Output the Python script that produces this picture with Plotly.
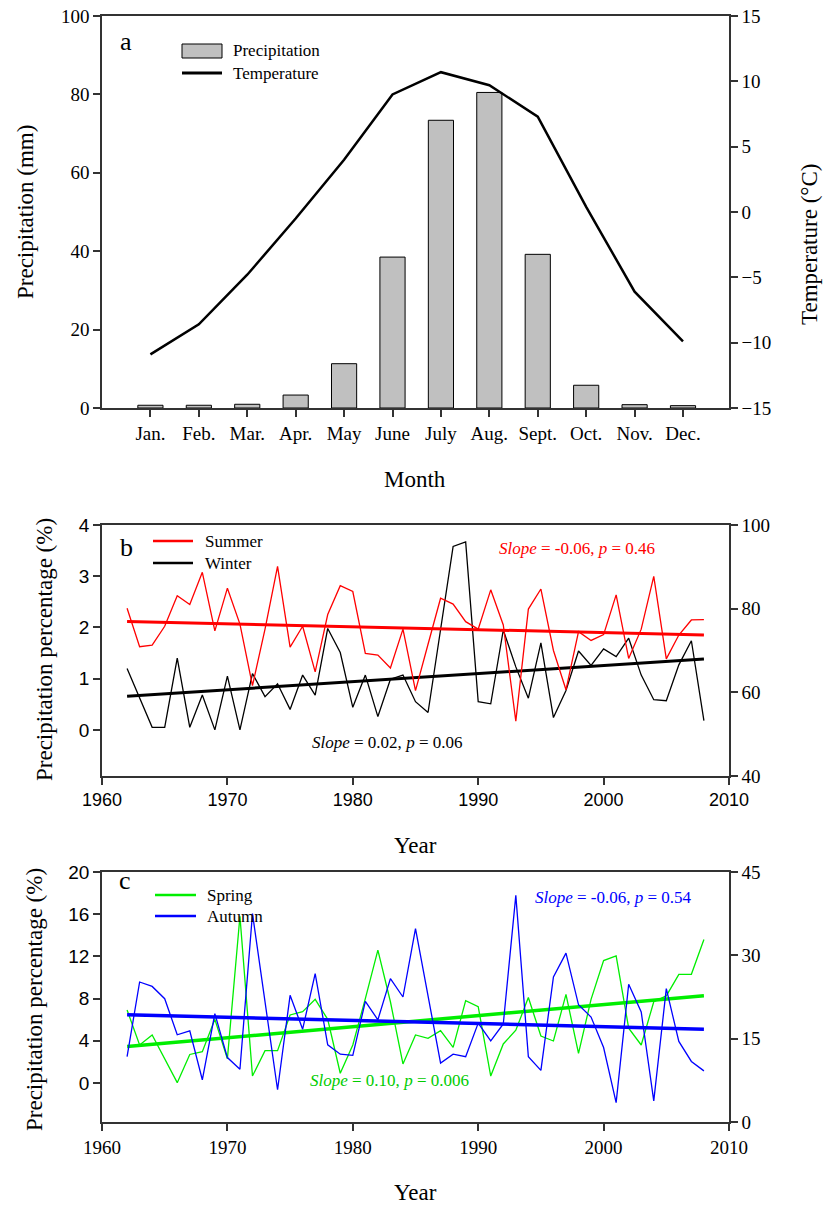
import numpy as np
import plotly.graph_objects as go

W, H = 826, 1205

# ---- panel a: monthly climate ----
months = ["Jan.", "Feb.", "Mar.", "Apr.", "May", "June", "July", "Aug.", "Sept.", "Oct.", "Nov.", "Dec."]
precip_mm = [0.7, 0.7, 0.95, 3.3, 11.3, 38.5, 73.4, 80.5, 39.2, 5.8, 0.85, 0.6]
temp_c = [-10.9, -8.6, -4.8, -0.5, 4.0, 9.0, 10.7, 9.7, 7.3, 0.4, -6.1, -9.9]

# ---- panels b, c: seasonal share of annual precipitation (%) ----
years = list(range(1962, 2009))
summer = [80.1, 70.9, 71.3, 75.8, 83.1, 81.0, 88.7, 74.7, 84.9, 76.3,
          61.6, 75.1, 90.1, 70.8, 75.8, 64.9, 78.6, 85.5, 84.1, 69.3,
          68.9, 65.8, 75.1, 60.4, 71.5, 82.5, 81.1, 76.9, 75.1, 84.5,
          76.1, 53.1, 79.9, 84.7, 70.0, 60.6, 74.5, 72.4, 73.8, 83.3,
          68.1, 75.1, 87.7, 68.0, 73.7, 77.3, 77.4]
winter = [1.20, 0.62, 0.05, 0.05, 1.40, 0.05, 0.68, 0.00, 1.05, 0.00,
          1.10, 0.65, 0.90, 0.40, 1.07, 0.68, 1.98, 1.51, 0.44, 1.07,
          0.26, 0.99, 1.07, 0.55, 0.34, 1.96, 3.58, 3.67, 0.55, 0.51,
          1.95, 1.23, 0.62, 1.70, 0.24, 0.77, 1.54, 1.26, 1.58, 1.43,
          1.79, 1.07, 0.59, 0.57, 1.27, 1.74, 0.18]
spring = [6.92, 3.6, 4.55, 2.24, 0.03, 2.7, 2.97, 6.03, 2.3, 15.8,
          0.66, 3.06, 3.06, 6.45, 6.76, 7.93, 6.03, 0.92, 3.6, 8.0,
          12.6, 7.7, 1.8, 4.55, 4.23, 4.96, 3.38, 7.8, 7.24, 0.66,
          3.7, 5.0, 8.1, 4.45, 3.98, 8.4, 2.8, 7.93, 11.6, 12.04,
          5.2, 3.6, 7.7, 8.25, 10.3, 10.3, 13.6]
autumn = [11.75, 25.2, 24.4, 22.2, 15.7, 16.4, 7.6, 19.5, 11.6, 9.5,
          37.5, 21.5, 5.8, 22.8, 16.7, 26.7, 13.9, 12.2, 12.0, 21.7,
          18.4, 25.8, 22.5, 34.8, 23.0, 10.6, 12.2, 11.75, 17.8, 14.6,
          17.65, 40.8, 11.75, 9.3, 26.1, 30.4, 21.1, 18.9, 13.4, 3.5,
          24.8, 19.8, 3.8, 24.0, 14.5, 10.9, 9.2]

SERIF = "Liberation Serif"
SANS = "Liberation Sans"
AX = "#333333"
RED, BLACK, GREEN, BLUE = "#ff0000", "#000000", "#00ee00", "#0000ff"


def px(x):
    return x / W


def py(y):
    return 1 - y / H


def trend(xs, ys):
    k, b = np.polyfit(xs, ys, 1)
    xe = np.array([xs[0], xs[-1]], dtype=float)
    return xe, k * xe + b


fig = go.Figure()

# panel a
fig.add_trace(go.Bar(x=months, y=precip_mm, width=0.52,
                     marker=dict(color="#c0c0c0", line=dict(color="black", width=1)),
                     xaxis="x", yaxis="y"))
fig.add_trace(go.Scatter(x=months, y=temp_c, mode="lines",
                         line=dict(color="black", width=2.5), xaxis="x", yaxis="y2"))

# panel b (winter on left axis, summer on right axis)
fig.add_trace(go.Scatter(x=years, y=winter, mode="lines", line=dict(color=BLACK, width=1.3),
                         xaxis="x2", yaxis="y3"))
fig.add_trace(go.Scatter(x=years, y=summer, mode="lines", line=dict(color=RED, width=1.3),
                         xaxis="x2", yaxis="y4"))
tx, ty = trend(years, winter)
fig.add_trace(go.Scatter(x=tx, y=ty, mode="lines", line=dict(color=BLACK, width=3),
                         xaxis="x2", yaxis="y3"))
tx, ty = trend(years, summer)
fig.add_trace(go.Scatter(x=tx, y=ty, mode="lines", line=dict(color=RED, width=3),
                         xaxis="x2", yaxis="y4"))

# panel c (spring on left axis, autumn on right axis)
fig.add_trace(go.Scatter(x=years, y=spring, mode="lines", line=dict(color=GREEN, width=1.3),
                         xaxis="x3", yaxis="y5"))
fig.add_trace(go.Scatter(x=years, y=autumn, mode="lines", line=dict(color=BLUE, width=1.3),
                         xaxis="x3", yaxis="y6"))
tx, ty = trend(years, spring)
fig.add_trace(go.Scatter(x=tx, y=ty, mode="lines", line=dict(color=GREEN, width=3.5),
                         xaxis="x3", yaxis="y5"))
tx, ty = trend(years, autumn)
fig.add_trace(go.Scatter(x=tx, y=ty, mode="lines", line=dict(color=BLUE, width=3.5),
                         xaxis="x3", yaxis="y6"))

xdom = [px(102), px(729)]
dom_a = [py(408), py(16)]
dom_b = [py(776), py(525)]
dom_c = [py(1122), py(872)]

common = dict(showgrid=False, zeroline=False, showline=True, linecolor=AX, linewidth=1.5,
              ticks="outside", ticklen=7, tickwidth=1.5, tickcolor=AX, automargin=False)
fs = lambda fam, size=19: dict(family=fam, size=size, color="black")

fig.update_layout(
    width=W, height=H, margin=dict(l=0, r=0, t=0, b=0),
    paper_bgcolor="white", plot_bgcolor="white", showlegend=False,
    xaxis=dict(domain=xdom, anchor="y", type="category", range=[-1, 11.95], mirror=True,
               tickfont=fs(SERIF, 19), **common),
    yaxis=dict(domain=dom_a, anchor="x", range=[0, 100], dtick=20, tickfont=fs(SERIF, 19), **common),
    yaxis2=dict(overlaying="y", side="right", anchor="x", range=[-15, 15], dtick=5,
                tickfont=fs(SERIF, 19), **common),
    xaxis2=dict(domain=xdom, anchor="y3", range=[1960, 2010], dtick=10, mirror=True,
                tickfont=fs(SANS, 18), **common),
    yaxis3=dict(domain=dom_b, anchor="x2", range=[-0.9, 4], tick0=0, dtick=1,
                tickfont=fs(SANS, 19), **common),
    yaxis4=dict(overlaying="y3", side="right", anchor="x2", range=[40, 100], dtick=20,
                tickfont=fs(SERIF, 19), **common),
    xaxis3=dict(domain=xdom, anchor="y5", range=[1960, 2010], dtick=10, mirror=True,
                tickfont=fs(SERIF, 19), **common),
    yaxis5=dict(domain=dom_c, anchor="x3", range=[-3.7, 20], tick0=0, dtick=4,
                tickfont=fs(SANS, 19), **common),
    yaxis6=dict(overlaying="y5", side="right", anchor="x3", range=[0, 45], dtick=15,
                tickfont=fs(SERIF, 19), **common),
)

ann = []


def text(x, y, s, size=17, color="black", fam=SERIF, angle=0, xanchor="center"):
    ann.append(dict(x=px(x), y=py(y), xref="paper", yref="paper", text=s, showarrow=False,
                    font=dict(family=fam, size=size, color=color), textangle=angle,
                    xanchor=xanchor, yanchor="middle"))


# axis titles
text(25, 212, "Precipitation (mm)", size=23, angle=-90)
text(810, 245, "Temperature (°C)", size=23, angle=-90)
text(415, 480, "Month", size=23)
text(44, 650, "Precipitation percentage (%)", size=23, angle=-90)
text(415, 846, "Year", size=23)
text(34, 1000, "Precipitation percentage (%)", size=23, angle=-90)
text(415, 1192, "Year", size=23)

# panel letters
text(126, 42, "a", size=26)
text(126, 548, "b", size=26)
text(125, 880, "c", size=26)

# regression statistics
text(577, 549, "<i>Slope</i> = -0.06, <i>p</i> = 0.46", color=RED)
text(387, 742, "<i>Slope</i> = 0.02, <i>p</i> = 0.06", color=BLACK)
text(613, 897, "<i>Slope</i> = -0.06, <i>p</i> = 0.54", color=BLUE)
text(389, 1080, "<i>Slope</i> = 0.10, <i>p</i> = 0.006", color="#00cc00")

# legends
shapes = []
shapes.append(dict(type="rect", xref="paper", yref="paper", x0=px(182), x1=px(222), y0=py(58), y1=py(44),
                   fillcolor="#c0c0c0", line=dict(color="black", width=1)))
shapes.append(dict(type="line", xref="paper", yref="paper", x0=px(182), x1=px(222), y0=py(73), y1=py(73),
                   line=dict(color="black", width=3)))
text(231, 51, "Precipitation", xanchor="left")
text(231, 73, "Temperature", xanchor="left")

for (yy, col, lab) in [(541, RED, "Summer"), (563, BLACK, "Winter")]:
    shapes.append(dict(type="line", xref="paper", yref="paper", x0=px(153), x1=px(193), y0=py(yy), y1=py(yy),
                       line=dict(color=col, width=2.5)))
    text(203, yy, lab, xanchor="left")
for (yy, col, lab) in [(895, GREEN, "Spring"), (916, BLUE, "Autumn")]:
    shapes.append(dict(type="line", xref="paper", yref="paper", x0=px(155), x1=px(196), y0=py(yy), y1=py(yy),
                       line=dict(color=col, width=2.5)))
    text(205, yy, lab, xanchor="left")

fig.update_layout(annotations=ann, shapes=shapes)
fig.write_html("out.html")
